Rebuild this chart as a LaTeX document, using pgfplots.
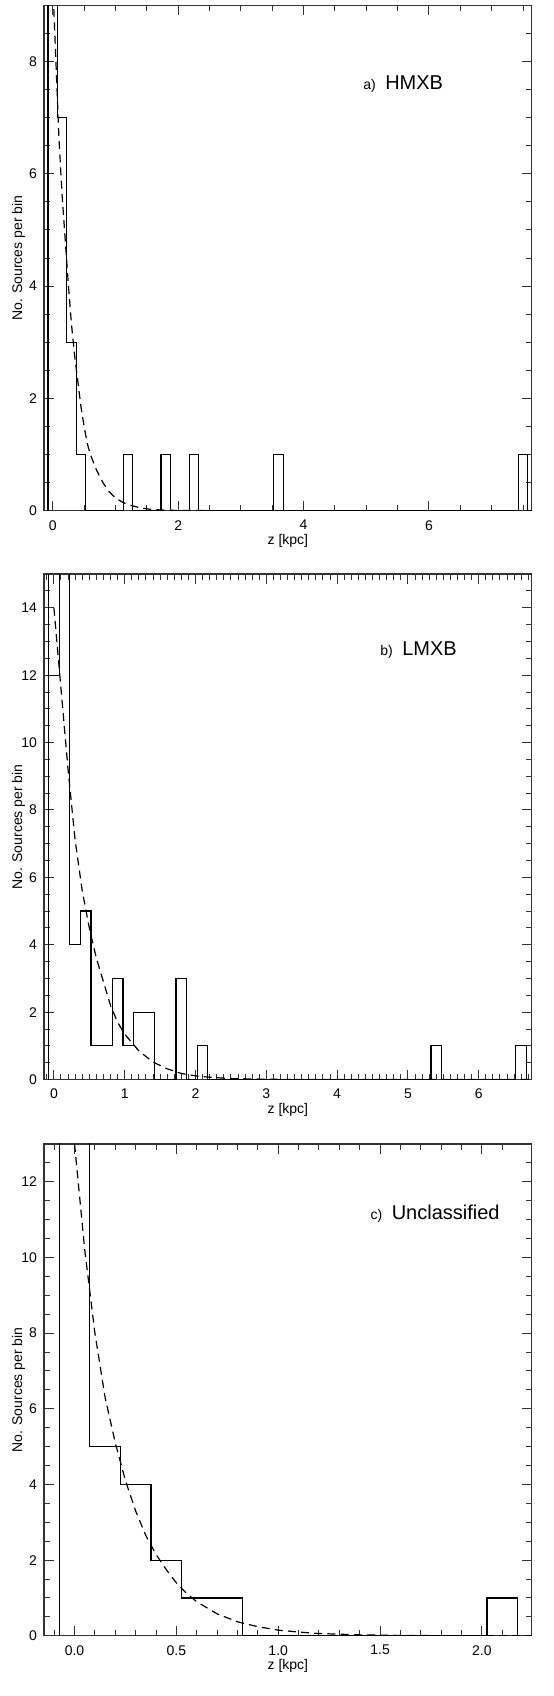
\documentclass[border=0pt]{standalone}
\usepackage{fontspec}
\setmainfont{Liberation Sans}
\usepackage{pgfplots}
\pgfplotsset{compat=1.18}

\pgfplotsset{
  zpanel/.style={
    scale only axis, width=243.9pt,
    anchor=south west,
    ymin=0,
    axis line style={black!80, line width=0.6pt},
    every tick/.style={black!80, line width=0.5pt},
    tick align=inside,
    major tick length=5pt, minor tick length=3pt,
    /pgf/number format/assume math mode=true,
    ticklabel style={font=\fontsize{7}{8}\selectfont},
    xticklabel style={yshift=-1.2pt},
    xlabel={z [kpc]},
    ylabel={No. Sources per bin},
    every axis x label/.style={at={(rel axis cs:0.5,0)}, yshift=-15.2pt, anchor=center,
      inner sep=1pt, font=\fontsize{7}{8}\selectfont},
    every axis y label/.style={at={(rel axis cs:0,0.5)}, xshift=-12.8pt, rotate=90, anchor=center,
      inner sep=1pt, font=\fontsize{7}{8}\selectfont},
  },
  hist/.style={const plot, black, line width=0.6pt},
  fit/.style={black, line width=0.6pt, dash pattern=on 4pt off 2.6pt},
}

\begin{document}
\begin{tikzpicture}
\useasboundingbox (0,0) rectangle (276.5pt,848pt);

% a) HMXB
\begin{axis}[zpanel, at={(22pt,592.6pt)}, height=252.75pt,
  xmin=-0.14, xmax=7.64, ymax=9,
  xtick={0,2,4,6}, minor xtick={0.5,1,...,7.5},
  ytick={0,2,4,6,8}, minor ytick={0.5,1,...,9}]
\addplot[hist] coordinates {(-0.075,0)(-0.075,12)(0.075,7)(0.225,3)(0.375,1)(0.525,0)
  (1.125,0)(1.125,1)(1.275,0)(1.725,0)(1.725,1)(1.875,0)(2.175,0)(2.175,1)(2.325,0)
  (3.525,0)(3.525,1)(3.675,0)(7.425,0)(7.425,1)(7.575,0)};
\addplot[fit] coordinates {(0,9.4)(0.05,8.0)(0.1,6.6)(0.15,5.6)(0.2,4.8)(0.25,4.0)(0.3,3.3)
  (0.35,2.75)(0.4,2.3)(0.45,1.85)(0.5,1.5)(0.55,1.2)(0.6,1.0)(0.7,0.72)(0.8,0.5)(0.9,0.34)
  (1.0,0.23)(1.1,0.16)(1.2,0.11)(1.4,0.05)(1.6,0.02)(2.0,0.005)(3.0,0.0005)(7.64,0)};
\node[anchor=west, font=\fontsize{10}{12}\selectfont] at (rel axis cs:0.64,0.845)
  {{\fontsize{7}{8}\selectfont a)}\hspace{2pt} HMXB};
\end{axis}

% b) LMXB
\begin{axis}[zpanel, at={(22pt,308.2pt)}, height=252.75pt,
  xmin=-0.14, xmax=6.75, ymax=15,
  xtick={0,1,...,6}, minor xtick={-0.1,0,0.1,...,6.75},
  ytick={0,2,...,14}, minor ytick={0.5,1,...,15}]
\addplot[hist] coordinates {(-0.075,0)(-0.075,16)(-0.075,12)(0.075,16)(0.225,4)(0.375,5)
  (0.525,1)(0.825,3)(0.975,1)(1.125,2)(1.425,0)(1.725,0)(1.725,3)(1.875,0)(2.025,0)(2.025,1)(2.175,0)
  (5.325,0)(5.325,1)(5.475,0)(6.525,0)(6.525,1)(6.675,0)};
\addplot[fit] coordinates {(0,14.0)(0.1,11.6)(0.2,9.2)(0.3,7.1)(0.4,5.6)(0.5,4.5)(0.6,3.6)
  (0.7,2.9)(0.8,2.2)(0.9,1.7)(1.0,1.35)(1.2,0.85)(1.4,0.52)(1.6,0.32)(1.8,0.18)(2.0,0.11)
  (2.2,0.07)(2.5,0.03)(3.0,0.01)(3.5,0.003)(6.75,0)};
\node[anchor=west, font=\fontsize{10}{12}\selectfont] at (rel axis cs:0.675,0.85)
  {{\fontsize{7}{8}\selectfont b)}\hspace{2pt} LMXB};
\end{axis}

% c) Unclassified
\begin{axis}[zpanel, at={(22pt,30.1pt)}, height=245.9pt,
  xmin=-0.15, xmax=2.245, ymax=13,
  xtick={0,0.5,...,2}, xticklabels={0.0,0.5,1.0,1.5,2.0},
  minor xtick={-0.1,0,0.1,...,2.2},
  ytick={0,2,...,12}, minor ytick={0.5,1,...,13}]
\addplot[hist] coordinates {(-0.075,0)(-0.075,15)(0.075,5)(0.225,4)(0.375,2)(0.525,1)(0.825,0)
  (2.025,0)(2.025,1)(2.175,0)};
\addplot[fit] coordinates {(0,13.0)(0.05,10.2)(0.1,8.0)(0.15,6.3)(0.2,5.1)(0.25,4.1)(0.3,3.3)
  (0.35,2.65)(0.4,2.15)(0.45,1.75)(0.5,1.4)(0.55,1.12)(0.6,0.9)(0.7,0.58)(0.8,0.37)(0.9,0.24)
  (1.0,0.15)(1.1,0.1)(1.2,0.06)(1.4,0.025)(1.6,0.01)(1.8,0.004)(2.0,0.002)(2.245,0)};
\node[anchor=west, font=\fontsize{10}{12}\selectfont] at (rel axis cs:0.655,0.858)
  {{\fontsize{7}{8}\selectfont c)}\hspace{2pt} Unclassified};
\end{axis}
\end{tikzpicture}
\end{document}
